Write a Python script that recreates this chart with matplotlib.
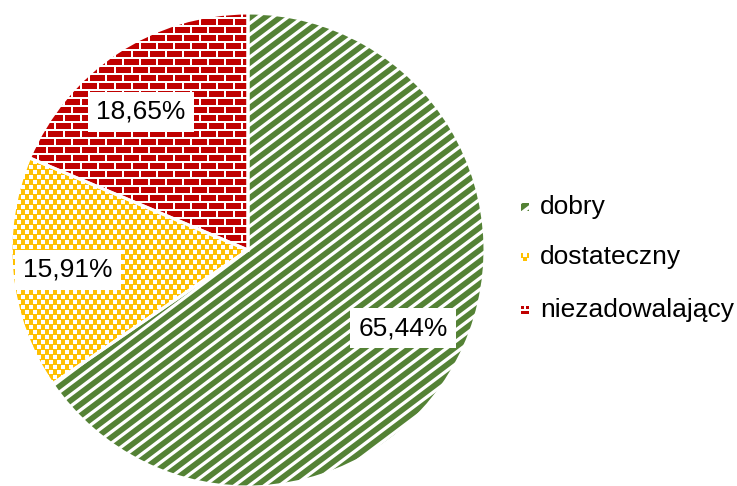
import matplotlib.pyplot as plt
import numpy as np
from matplotlib.collections import LineCollection
from matplotlib.patches import Rectangle, Wedge

plt.rcParams['font.family'] = ['Liberation Sans', 'DejaVu Sans']

labels = ["dobry", "dostateczny", "niezadowalający"]
shares = [65.44, 15.91, 18.65]
share_text = ["65,44%", "15,91%", "18,65%"]
colors = ["#548235", "#FFC000", "#C00000"]

W, H = 737, 486
CX, CY, R = 248, 250, 237  # pie centre and radius in pixels
PX = 1 / R  # one pixel in data units


def to_data(px, py):
    return (px - CX) * PX, (CY - py) * PX


def stripes(ax, clip):
    # white diagonal stripes
    a = np.deg2rad(37)
    d = np.array([np.cos(a), np.sin(a)])
    n = np.array([-np.sin(a), np.cos(a)])
    per = 9 * PX
    segs = []
    for k in range(-200, 200):
        p = k * per * n
        segs.append([p - 4 * d, p + 4 * d])
    lc = LineCollection(segs, colors="white", linewidths=3.3 * 0.72, zorder=2)
    ax.add_collection(lc)
    lc.set_clip_path(clip)


def dots(ax, clip, xr=(-1.1, 0.2), yr=(-0.6, 0.6)):
    xs, ys = [], []
    for j, y in enumerate(np.arange(yr[0], yr[1], 5 * PX)):
        for x in np.arange(xr[0], xr[1], 8 * PX):
            xs.append(x + (j % 2) * 4 * PX)
            ys.append(y)
    sc = ax.scatter(xs, ys, marker="s", s=(4 * 0.72) ** 2, c="white",
                    linewidths=0, zorder=2)
    sc.set_clip_path(clip)


def bricks(ax, clip, xr=(-1.1, 0.2), yr=(-0.1, 1.1)):
    h, w = 8 * PX, 17 * PX
    hs, vs = [], []
    ys = np.arange(yr[0], yr[1], h)
    for j, y in enumerate(ys):
        hs.append([(xr[0], y), (xr[1], y)])
        for x in np.arange(xr[0], xr[1], w):
            xx = x + (j % 2) * w / 2
            vs.append([(xx, y), (xx, y + h)])
    lc = LineCollection(hs + vs, colors="white", linewidths=2.0 * 0.72, zorder=2)
    ax.add_collection(lc)
    lc.set_clip_path(clip)


fig = plt.figure(figsize=(W / 100, H / 100), dpi=100)
ax = fig.add_axes([0, 0, 1, 1])

wedges, _ = ax.pie(shares, colors=colors, startangle=90, counterclock=False,
                   radius=1, center=(0, 0),
                   wedgeprops=dict(edgecolor="none", linewidth=0))
stripes(ax, wedges[0])
dots(ax, wedges[1])
bricks(ax, wedges[2])

# white separators on top of the patterns
for w in wedges:
    ax.add_patch(Wedge(w.center, w.r, w.theta1, w.theta2,
                       fc="none", ec="white", lw=2.2, zorder=3))

# value labels
label_px = [(403, 328), (68, 270), (141, 112)]
for t, (px, py) in zip(share_text, label_px):
    x, y = to_data(px, py)
    ax.text(x, y, t, ha="center", va="center", fontsize=19, zorder=5,
            bbox=dict(boxstyle="square,pad=0.3", fc="white", ec="none"))

# legend
pattern_fn = [stripes, dots, bricks]
leg_y = [207, 257, 310]
for lab, col, fn, py in zip(labels, colors, pattern_fn, leg_y):
    x, y = to_data(525, py)
    s = 8 * PX
    rect = Rectangle((x - s / 2, y - s / 2), s, s, fc=col, ec="none", zorder=1)
    ax.add_patch(rect)
    if fn is stripes:
        fn(ax, rect)
    else:
        fn(ax, rect, xr=(x - s, x + s), yr=(y - s, y + s))
    tx, ty = to_data(540, py)
    ax.text(tx, ty, lab, ha="left", va="center", fontsize=19, color="black")

ax.set_xlim(-CX * PX, (W - CX) * PX)
ax.set_ylim((CY - H) * PX, CY * PX)
ax.set_aspect("auto")
ax.axis("off")

fig.savefig("out.png", dpi=100)
